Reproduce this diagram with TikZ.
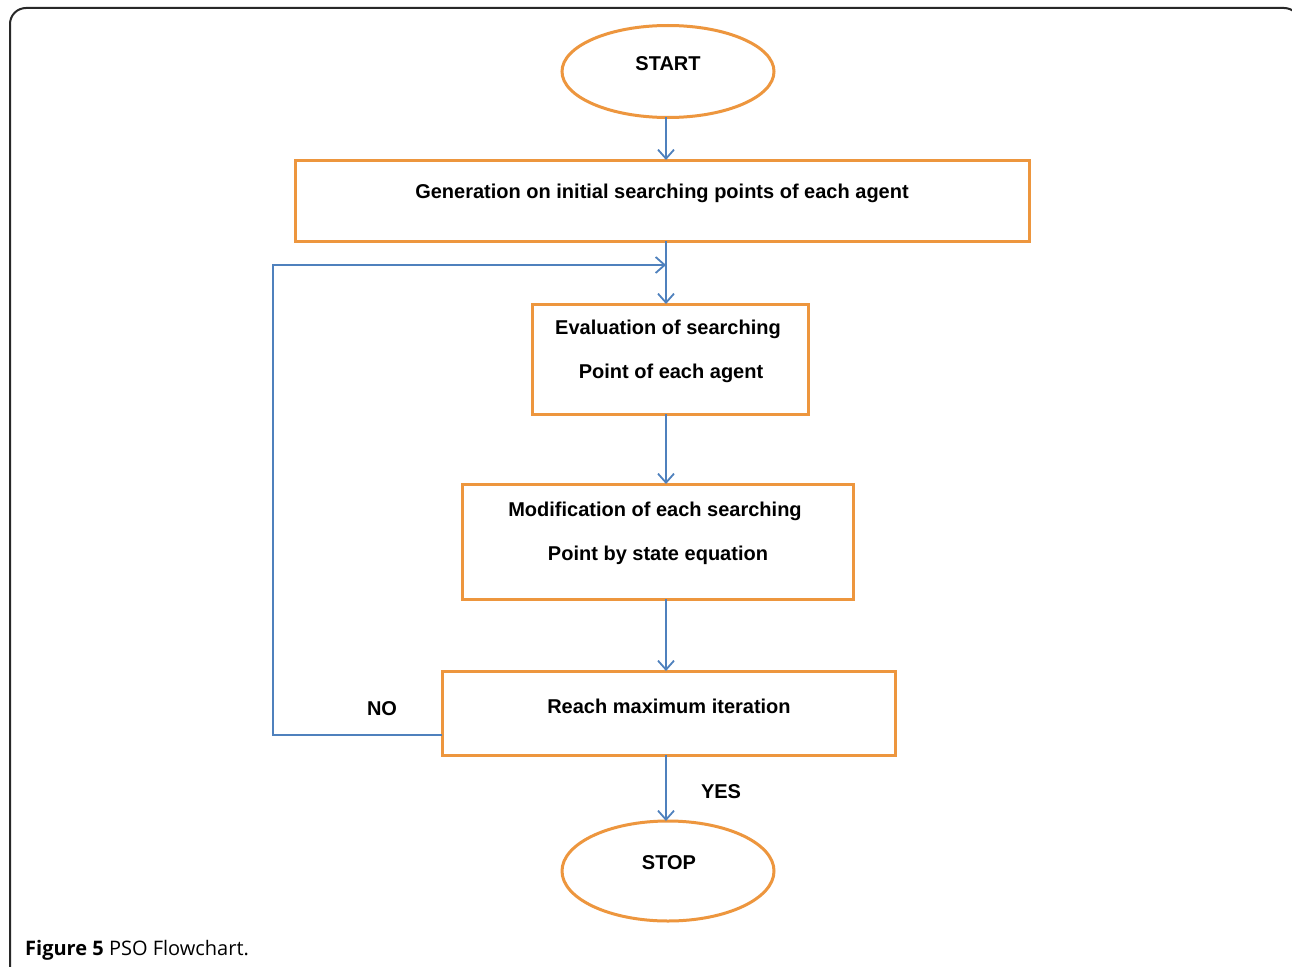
\documentclass[tikz,border=0pt]{standalone}
\usepackage{fontspec}
\setmainfont{Liberation Sans}
\newfontfamily\capfont{Open Sans}
\usetikzlibrary{shapes.geometric,arrows.meta}
\definecolor{orng}{RGB}{237,150,62}
\definecolor{blu}{RGB}{79,129,189}
\definecolor{frm}{RGB}{40,40,40}
\tikzset{
  term/.style={ellipse,draw=orng,line width=3pt,minimum width=212pt,minimum height=92pt,inner sep=0pt},
  procbox/.style={rectangle,draw=orng,line width=3pt,inner sep=0pt},
  txt/.style={font=\fontsize{20pt}{24pt}\selectfont\bfseries,inner sep=0pt,anchor=center},
  conn/.style={draw=blu,line width=1.8pt,-{Straight Barb[length=9pt,width=16pt,line width=1.8pt]}},
  loopline/.style={draw=blu,line width=1.5pt}
}
\begin{document}
\begin{tikzpicture}[x=1pt,y=-1pt]
\useasboundingbox (0,0) rectangle (1292,966);
\fill[white] (0,0) rectangle (1292,966);
% page frame
\draw[frm,line width=2pt,rounded corners=16pt] (10,1010) -- (10,8) -- (1300,8) -- (1300,1010);
% shapes
\node[term] (start) at (668,71.5) {};
\node[procbox,minimum width=734pt,minimum height=81pt] (b1) at (662,200.5) {};
\node[procbox,minimum width=276pt,minimum height=110pt] (b2) at (670,359) {};
\node[procbox,minimum width=391pt,minimum height=115pt] (b3) at (657.5,541.5) {};
\node[procbox,minimum width=453pt,minimum height=84pt] (b4) at (668.5,713) {};
\node[term,minimum height=100pt] (stop) at (668,871) {};
% texts
\node[txt] (tstart) at (668,64) {START};
\node[txt] (t1) at (662,193) {Generation on initial searching points of each agent};
\node[txt] (t2a) at (668,329) {Evaluation of searching};
\node[txt] (t2b) at (671,373) {Point of each agent};
\node[txt] (t3a) at (655,511) {Modification of each searching};
\node[txt] (t3b) at (658,555) {Point by state equation};
\node[txt] (t4) at (669,706) {Reach maximum iteration};
\node[txt] (tno) at (382,709) {NO};
\node[txt] (tyes) at (721,792) {YES};
\node[txt] (tstop) at (669,863) {STOP};
% coordinates
\coordinate (c0) at (666,117);
\coordinate (c1) at (666,160);
\coordinate (c2) at (666,241);
\coordinate (c3) at (666,304);
\coordinate (c4) at (666,414);
\coordinate (c5) at (666,484);
\coordinate (c6) at (666,599);
\coordinate (c7) at (666,671);
\coordinate (c8) at (666,755);
\coordinate (c9) at (666,821);
\coordinate (m) at (666,265);
\coordinate (l0) at (442,735);
\coordinate (l1) at (273,735);
\coordinate (l2) at (273,265);
% connectors
\draw[conn] (c0) -- (c1);
\draw[conn] (c2) -- (c3);
\draw[conn] (c4) -- (c5);
\draw[conn] (c6) -- (c7);
\draw[conn] (c8) -- (c9);
\draw[loopline] (l0) -- (l1) -- (l2) -- (m);
\draw[conn] (l2) -- (m);
% caption
\node[anchor=base west,inner sep=0pt,font=\capfont\fontsize{20pt}{24pt}\selectfont] (cap) at (25,955) {\textbf{Figure 5} PSO Flowchart.};
\end{tikzpicture}
\end{document}
